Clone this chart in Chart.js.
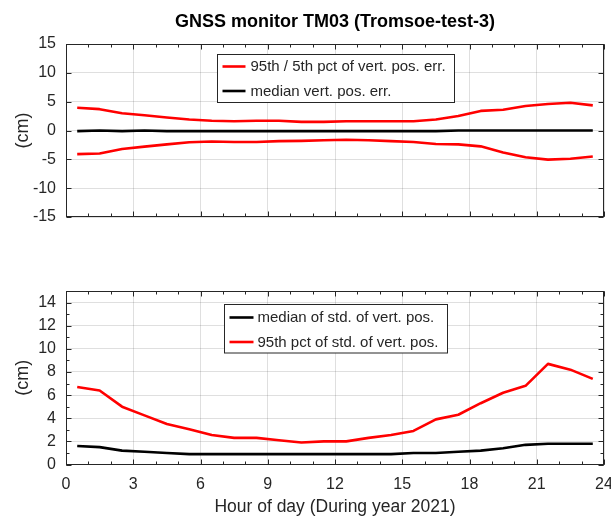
<!DOCTYPE html>
<html>
<head>
<meta charset="utf-8">
<script src="https://cdn.jsdelivr.net/npm/chart.js@4/dist/chart.umd.min.js"></script>
<style>
  html, body { margin: 0; padding: 0; background: #ffffff; }
  #wrap { position: relative; width: 611px; height: 518px; }
  .panel { position: absolute; left: 0; width: 611px; }
</style>
</head>
<body>
<div id="wrap">
  <div class="panel" style="top:0;height:250px"><canvas id="errChart" width="611" height="250"></canvas></div>
  <div class="panel" style="top:250px;height:268px"><canvas id="stdChart" width="611" height="268"></canvas></div>
</div>
<script>
// Hour-of-day bins (bin centres)
const hours = [0.5, 1.5, 2.5, 3.5, 4.5, 5.5, 6.5, 7.5, 8.5, 9.5, 10.5, 11.5,
               12.5, 13.5, 14.5, 15.5, 16.5, 17.5, 18.5, 19.5, 20.5, 21.5, 22.5, 23.5];

// Vertical position error percentiles (cm)
const err95 = [3.95, 3.7, 3.0, 2.65, 2.25, 1.9, 1.7, 1.6, 1.7, 1.7, 1.5, 1.5,
               1.6, 1.6, 1.6, 1.6, 1.9, 2.5, 3.4, 3.6, 4.25, 4.6, 4.8, 4.35];
const err5 = [-4.1, -4.0, -3.2, -2.8, -2.4, -2.05, -1.9, -2.0, -2.0, -1.85, -1.8, -1.7,
              -1.6, -1.7, -1.85, -2.0, -2.35, -2.4, -2.75, -3.8, -4.65, -5.05, -4.9, -4.5];
const errMedian = [-0.1, 0.0, -0.1, 0.0, -0.1, -0.1, -0.1, -0.1, -0.1, -0.1, -0.1, -0.1,
                   -0.1, -0.1, -0.1, -0.1, -0.1, 0.0, 0.0, 0.0, 0.0, 0.0, 0.0, 0.0];

// Standard deviation of vertical position (cm)
const stdMedian = [1.6, 1.5, 1.2, 1.1, 1.0, 0.9, 0.9, 0.9, 0.9, 0.9, 0.9, 0.9,
                   0.9, 0.9, 0.9, 1.0, 1.0, 1.1, 1.2, 1.4, 1.7, 1.8, 1.8, 1.8];
const std95 = [6.7, 6.4, 5.0, 4.25, 3.5, 3.05, 2.55, 2.3, 2.3, 2.1, 1.9, 2.0,
               2.0, 2.3, 2.55, 2.9, 3.9, 4.3, 5.3, 6.2, 6.8, 8.7, 8.2, 7.4];

// Tick labels
const hourTicks = [0, 3, 6, 9, 12, 15, 18, 21, 24];
const errTicks = [-15, -10, -5, 0, 5, 10, 15];
const stdTicks = [0, 2, 4, 6, 8, 10, 12, 14];

// Text
const figTitle = 'GNSS monitor TM03 (Tromsoe-test-3)';
const xTitle = 'Hour of day (During year 2021)';
const yTitle = '(cm)';
const lbl95_5 = '95th / 5th pct of vert. pos. err.';
const lblErrMed = 'median vert. pos. err.';
const lblStdMed = 'median of std. of vert. pos.';
const lblStd95 = '95th pct of std. of vert. pos.';

const FONT = "'Liberation Sans', Arial, Helvetica, sans-serif";
const INK = '#262626';
const GRID = 'rgba(38,38,38,0.15)';
const RED = '#ff0000';
const BLACK = '#000000';

Chart.defaults.font.family = FONT;
Chart.defaults.color = INK;

const pts = (ys) => hours.map((h, i) => ({ x: h, y: ys[i] }));

const lineStyle = (color) => ({
  borderColor: color, backgroundColor: color, borderWidth: 2.6,
  pointRadius: 0, tension: 0, borderJoinStyle: 'round', fill: false
});

// Box around the axes with inward tick marks on all four sides
const frameBox = {
  id: 'frameBox',
  afterDraw(chart, args, opts) {
    const { ctx, chartArea: a, scales } = chart;
    const xs = scales.x, ys = scales.y;
    ctx.save();
    ctx.strokeStyle = INK;
    ctx.lineWidth = 1;
    const L = Math.round(a.left) + 0.5, R = Math.round(a.right) - 0.5;
    const T = Math.round(a.top) + 0.5, B = Math.round(a.bottom) - 0.5;
    ctx.beginPath();
    const xMark = (v, len) => {
      const p = Math.round(xs.getPixelForValue(v)) + 0.5;
      ctx.moveTo(p, B); ctx.lineTo(p, B - len);
      ctx.moveTo(p, T); ctx.lineTo(p, T + len);
    };
    const yMark = (v, len) => {
      const p = Math.round(ys.getPixelForValue(v)) + 0.5;
      ctx.moveTo(L, p); ctx.lineTo(L + len, p);
      ctx.moveTo(R, p); ctx.lineTo(R - len, p);
    };
    xs.ticks.forEach(t => xMark(t.value, 5));
    ys.ticks.forEach(t => yMark(t.value, 5));
    if (opts.xMinor) {
      for (let v = xs.min; v <= xs.max; v += opts.xMinor) xMark(v, 3);
    }
    if (opts.yMinor) {
      for (let v = ys.min; v <= ys.max; v += opts.yMinor) yMark(v, 3);
    }
    ctx.stroke();
    ctx.strokeRect(L, T, R - L, B - T);
    ctx.restore();
  }
};

// Boxed legend placed inside the plotting area
const innerLegend = {
  id: 'innerLegend',
  afterDraw(chart, args, opts) {
    if (!opts.items) return;
    const { ctx, chartArea: a } = chart;
    ctx.save();
    ctx.font = opts.fontSize + 'px ' + FONT;
    const textW = Math.max(...opts.items.map(it => ctx.measureText(chart.data.datasets[it].label).width));
    const x0 = Math.round(a.left + opts.dx) + 0.5;
    const y0 = Math.round(a.top + opts.dy) + 0.5;
    const w = Math.round(opts.textX + textW + opts.padRight);
    const h = opts.height;
    ctx.fillStyle = '#ffffff';
    ctx.fillRect(x0, y0, w, h);
    ctx.strokeStyle = INK;
    ctx.lineWidth = 1;
    ctx.strokeRect(x0, y0, w, h);
    opts.items.forEach((idx, k) => {
      const ds = chart.data.datasets[idx];
      const cy = y0 + opts.rowY[k];
      ctx.strokeStyle = ds.borderColor;
      ctx.lineWidth = 2.6;
      ctx.beginPath();
      ctx.moveTo(x0 + opts.lineFrom, cy);
      ctx.lineTo(x0 + opts.lineTo, cy);
      ctx.stroke();
      ctx.fillStyle = INK;
      ctx.textBaseline = 'middle';
      ctx.textAlign = 'left';
      ctx.fillText(ds.label, x0 + opts.textX, cy + 0.5);
    });
    ctx.restore();
  }
};

// Figure title centred over the axes
const axesTitle = {
  id: 'axesTitle',
  afterDraw(chart, args, opts) {
    if (!opts.text) return;
    const { ctx, chartArea: a } = chart;
    ctx.save();
    ctx.font = 'bold ' + opts.fontSize + 'px ' + FONT;
    ctx.fillStyle = '#000000';
    ctx.textAlign = 'center';
    ctx.textBaseline = 'middle';
    ctx.fillText(opts.text, (a.left + a.right) / 2, opts.y);
    ctx.restore();
  }
};

function xScale(height, showLabels) {
  return {
    type: 'linear', min: 0, max: 24,
    afterBuildTicks: s => { s.ticks = hourTicks.map(v => ({ value: v })); },
    afterFit: s => { s.height = height; s.paddingLeft = 0; s.paddingRight = 0; },
    grid: { color: GRID, lineWidth: 1, drawTicks: false },
    border: { display: false },
    ticks: { display: showLabels, padding: 10.9, font: { size: 16 }, color: INK, maxRotation: 0 },
    title: showLabels ? { display: true, text: xTitle, font: { size: 17.5 }, color: INK,
                          padding: { top: 0, bottom: 0.5 } } : { display: false }
  };
}

function yScale(min, max, tickList) {
  return {
    type: 'linear', min: min, max: max,
    afterBuildTicks: s => { s.ticks = tickList.map(v => ({ value: v })); },
    afterFit: s => { s.width = 66; s.paddingTop = 0; s.paddingBottom = 0; },
    grid: { color: GRID, lineWidth: 1, drawTicks: false },
    border: { display: false },
    ticks: { padding: 10, font: { size: 16 }, color: INK },
    title: { display: true, text: yTitle, font: { size: 18 }, color: INK,
             padding: { top: 12.2, bottom: 0 } }
  };
}

const common = {
  responsive: false,
  animation: false,
  devicePixelRatio: 1,
  parsing: false,
  normalized: true,
  events: []
};

// Upper panel: vertical position error
new Chart(document.getElementById('errChart'), {
  type: 'line',
  data: {
    datasets: [
      Object.assign({ label: lbl95_5, data: pts(err95) }, lineStyle(RED)),
      Object.assign({ label: lbl95_5, data: pts(err5) }, lineStyle(RED)),
      Object.assign({ label: lblErrMed, data: pts(errMedian) }, lineStyle(BLACK))
    ]
  },
  options: Object.assign({}, common, {
    layout: { padding: { top: 44, right: 7, left: 0, bottom: 0 } },
    scales: { x: xScale(33, false), y: yScale(-15, 15, errTicks) },
    plugins: {
      legend: { display: false },
      tooltip: { enabled: false },
      title: { display: false },
      frameBox: { xMinor: 1 },
      axesTitle: { text: figTitle, fontSize: 18, y: 22 },
      innerLegend: { items: [0, 2], dx: 151, dy: 10, height: 48, fontSize: 15,
                     rowY: [12, 36.5], lineFrom: 5, lineTo: 28, textX: 33, padRight: 9 }
    }
  }),
  plugins: [frameBox, innerLegend, axesTitle]
});

// Lower panel: standard deviation of vertical position
new Chart(document.getElementById('stdChart'), {
  type: 'line',
  data: {
    datasets: [
      Object.assign({ label: lblStdMed, data: pts(stdMedian) }, lineStyle(BLACK)),
      Object.assign({ label: lblStd95, data: pts(std95) }, lineStyle(RED))
    ]
  },
  options: Object.assign({}, common, {
    layout: { padding: { top: 41, right: 7, left: 0, bottom: 0 } },
    scales: { x: xScale(53.5, true), y: yScale(0, 15, stdTicks) },
    plugins: {
      legend: { display: false },
      tooltip: { enabled: false },
      title: { display: false },
      frameBox: { xMinor: 1, yMinor: 1 },
      innerLegend: { items: [0, 1], dx: 158, dy: 13, height: 48.5, fontSize: 15,
                     rowY: [13, 37.5], lineFrom: 5, lineTo: 29, textX: 33, padRight: 9 }
    }
  }),
  plugins: [frameBox, innerLegend]
});
</script>
</body>
</html>
